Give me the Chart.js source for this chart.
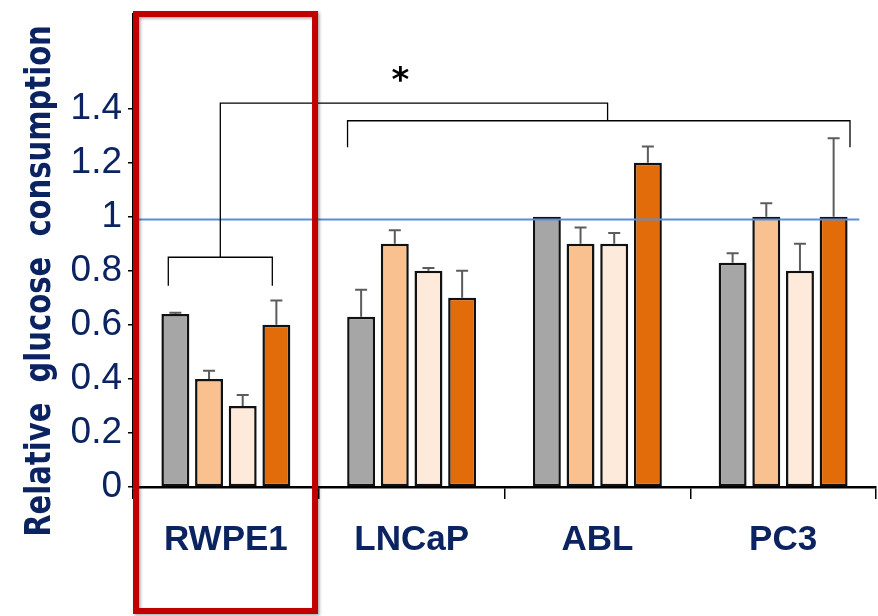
<!DOCTYPE html>
<html>
<head>
<meta charset="utf-8">
<script src="https://cdn.jsdelivr.net/npm/chart.js@4.4.1/dist/chart.umd.min.js"></script>
<style>
  html, body { margin:0; padding:0; background:#fff; }
  #wrap { position:relative; width:878px; height:616px; }
</style>
</head>
<body>
<div id="wrap"><canvas id="chart"></canvas></div>
<script>
// ── Data ───────────────────────────────────────
const categories = ['RWPE1', 'LNCaP', 'ABL', 'PC3'];
const yTicks     = [0, 0.2, 0.4, 0.6, 0.8, 1, 1.2, 1.4];

const greyVals   = [0.64, 0.63, 1.00, 0.83];
const greyErr    = [0.005, 0.10, 0, 0.035];
const peachVals  = [0.40, 0.90, 0.90, 1.00];
const peachErr   = [0.03, 0.05, 0.06, 0.05];
const paleVals   = [0.30, 0.80, 0.90, 0.80];
const paleErr    = [0.04, 0.01, 0.04, 0.10];
const orangeVals = [0.60, 0.70, 1.20, 1.00];
const orangeErr  = [0.09, 0.10, 0.06, 0.29];

// reference line + significance brackets (category index / value units)
const refLine      = 0.99;
const rwpeBracket  = [-0.31, 0.25, 0.85, 0.745];   // x0, x1, y, leg bottom
const topBracket   = [-0.03, 2.055, 1.42];          // stem x, right x, y
const otherBracket = [0.655, 3.36, 1.355, 1.257];   // x0, x1, y, leg bottom
const starPos      = [0.94, 1.52];

const NAVY = '#0b2461';
const COLORS = ['#a6a6a6', '#f9c18f', '#fdeadb', '#e36c0a'];

const series = [
    { label: 'Grey',   data: greyVals,   err: greyErr },
    { label: 'Peach',  data: peachVals,  err: peachErr },
    { label: 'Pale',   data: paleVals,   err: paleErr },
    { label: 'Orange', data: orangeVals, err: orangeErr },
];

// ── Overlay plugin: error bars, ref line, brackets, box, y title ──
const overlay = {
    id: 'overlay',
    afterDatasetsDraw(chart) {
        const ctx = chart.ctx, xs = chart.scales.x, ys = chart.scales.y;
        ctx.save();
        // error bars (upper only)
        ctx.strokeStyle = '#5c5c5c';
        ctx.lineWidth = 2;
        series.forEach((s, di) => {
            chart.getDatasetMeta(di).data.forEach((bar, i) => {
                const e = s.err[i];
                if (!e) return;
                const yTop = ys.getPixelForValue(s.data[i] + e);
                const yBase = ys.getPixelForValue(s.data[i]);
                ctx.beginPath();
                ctx.moveTo(bar.x, yBase); ctx.lineTo(bar.x, yTop);
                ctx.moveTo(bar.x - 6, yTop); ctx.lineTo(bar.x + 6, yTop);
                ctx.stroke();
            });
        });
        // reference line
        const yr = ys.getPixelForValue(refLine);
        ctx.strokeStyle = '#5b8ed6';
        ctx.lineWidth = 2;
        ctx.beginPath();
        ctx.moveTo(chart.chartArea.left, yr);
        ctx.lineTo(xs.getPixelForValue(3.41), yr);
        ctx.stroke();

        // brackets
        const px = v => xs.getPixelForValue(v), py = v => ys.getPixelForValue(v);
        ctx.strokeStyle = '#000';
        ctx.lineWidth = 1.3;
        ctx.beginPath();
        ctx.moveTo(px(rwpeBracket[0]), py(rwpeBracket[3]));
        ctx.lineTo(px(rwpeBracket[0]), py(rwpeBracket[2]));
        ctx.lineTo(px(rwpeBracket[1]), py(rwpeBracket[2]));
        ctx.lineTo(px(rwpeBracket[1]), py(rwpeBracket[3]));
        ctx.moveTo(px(topBracket[0]), py(rwpeBracket[2]));
        ctx.lineTo(px(topBracket[0]), py(topBracket[2]));
        ctx.lineTo(px(topBracket[1]), py(topBracket[2]));
        ctx.lineTo(px(topBracket[1]), py(otherBracket[2]));
        ctx.moveTo(px(otherBracket[0]), py(otherBracket[3]));
        ctx.lineTo(px(otherBracket[0]), py(otherBracket[2]));
        ctx.lineTo(px(otherBracket[1]), py(otherBracket[2]));
        ctx.lineTo(px(otherBracket[1]), py(otherBracket[3]));
        ctx.stroke();

        ctx.fillStyle = '#000';
        ctx.font = 'bold 34px "DejaVu Sans"';
        ctx.textAlign = 'center';
        ctx.textBaseline = 'middle';
        ctx.fillText('*', px(starPos[0]), py(starPos[1]) + 6);
        ctx.restore();
    },
    afterDraw(chart) {
        const ctx = chart.ctx, xs = chart.scales.x, ca = chart.chartArea;
        ctx.save();
        // highlight box around RWPE1
        ctx.shadowColor = 'rgba(0,0,0,0.35)';
        ctx.shadowBlur = 3;
        ctx.shadowOffsetX = 1.5;
        ctx.shadowOffsetY = 1.5;
        ctx.strokeStyle = '#c00000';
        ctx.lineWidth = 6;
        const l = ca.left + 3, r = xs.getPixelForValue(0.48);
        ctx.strokeRect(l, ca.top, r - l, chart.height - 5 - ca.top);
        ctx.restore();

        // y axis title (condensed to mimic the original face)
        ctx.save();
        ctx.translate(50, 281);
        ctx.rotate(-Math.PI / 2);
        ctx.scale(0.83, 1);
        ctx.fillStyle = NAVY;
        ctx.font = 'bold 35px "DejaVu Sans"';
        ctx.textAlign = 'center';
        ctx.textBaseline = 'alphabetic';
        ctx.fillText('Relative  glucose  consumption', 0, 0);
        ctx.restore();
    },
};

new Chart(document.getElementById('chart'), {
    type: 'bar',
    data: {
        labels: categories,
        datasets: series.map((s, i) => ({
            label:           s.label,
            data:            s.data,
            backgroundColor: COLORS[i],
            borderColor:     '#111',
            borderWidth:     2.5,
            borderSkipped:   false,
            categoryPercentage: 0.725,
            barPercentage:      0.83,
        })),
    },
    options: {
        responsive:          true,
        maintainAspectRatio: false,
        animation:           false,
        layout: { padding: { top: 14, right: 2, left: 0, bottom: 0 } },
        plugins: { legend: { display: false }, tooltip: { enabled: false } },
        scales: {
            x: {
                afterFit: s => { s.height = 129; s.paddingLeft = 0; s.paddingRight = 0; },
                grid:   { drawOnChartArea: false, drawTicks: true, tickLength: 12, color: '#000', lineWidth: 1.5 },
                border: { display: true, color: '#000', width: 2.5 },
                ticks:  { color: NAVY, padding: 20, font: { family: '"Liberation Sans"', size: 35, weight: 'bold' } },
            },
            y: {
                min: 0, max: 1.75,
                afterFit: s => { s.width = 133; s.paddingTop = 0; s.paddingBottom = 0; },
                afterBuildTicks: s => { s.ticks = yTicks.map(v => ({ value: v })); },
                grid:   { drawOnChartArea: false, drawTicks: true, tickLength: 5, color: '#000', lineWidth: 1.5 },
                border: { display: true, color: '#000', width: 2 },
                ticks:  {
                    color: NAVY, padding: 6,
                    font: { family: '"Liberation Sans Narrow", "Liberation Sans"', size: 37 },
                    callback: v => String(Math.round(v * 10) / 10),
                },
            },
        },
    },
    plugins: [overlay],
});
</script>
</body>
</html>
